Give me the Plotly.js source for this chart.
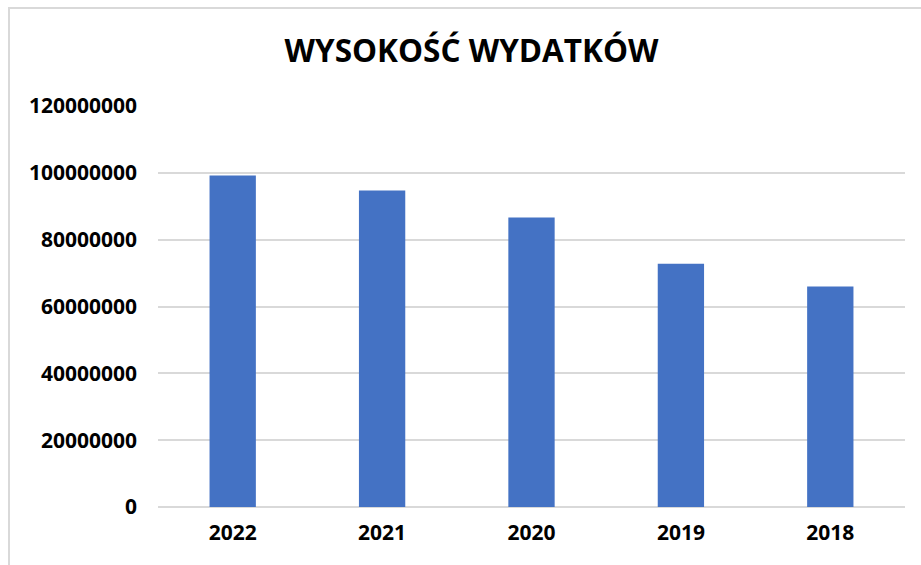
<!DOCTYPE html>
<html>
<head>
<meta charset="utf-8">
<script src="https://cdn.plot.ly/plotly-3.0.1.min.js"></script>
<style>
  html, body { margin: 0; padding: 0; background: #fff; overflow: hidden; }
  #frame { position: absolute; left: 8px; top: 7px; width: 1000px; height: 1000px; border: 2px solid #d9d9d9; box-sizing: border-box; }
  #chart { position: absolute; left: 0; top: 0; width: 921px; height: 565px; }
</style>
</head>
<body>
<div id="frame"></div>
<div id="chart"></div>
<script>
const categories = ["2022", "2021", "2020", "2019", "2018"];
const values = [99200000, 94700000, 86600000, 72800000, 66000000];
const tickValues = [0, 20000000, 40000000, 60000000, 80000000, 100000000, 120000000];
const tickLabels = ["0", "20000000", "40000000", "60000000", "80000000", "100000000", "120000000"];
const chartTitle = "WYSOKOŚĆ WYDATKÓW";

const trace = {
  type: "bar",
  x: categories,
  y: values,
  marker: { color: "#4472C4" },
  hoverinfo: "x+y"
};

const layout = {
  width: 921,
  height: 565,
  paper_bgcolor: "rgba(0,0,0,0)",
  plot_bgcolor: "rgba(0,0,0,0)",
  margin: { l: 158, r: 16, t: 106, b: 58 },
  bargap: 0.69,
  showlegend: false,
  title: {
    text: chartTitle,
    font: { family: "Open Sans", size: 31.5, color: "#000", weight: "bold" },
    x: 0.512, xref: "container", xanchor: "center",
    y: 1 - 51 / 565, yref: "container", yanchor: "middle"
  },
  xaxis: {
    type: "category",
    showgrid: false,
    showline: false,
    zeroline: false,
    ticks: "",
    ticklabelstandoff: 11,
    tickfont: { family: "Open Sans", size: 21, color: "#000", weight: "bold" }
  },
  yaxis: {
    range: [0, 120000000],
    tickmode: "array",
    tickvals: tickValues,
    ticktext: tickLabels,
    showgrid: true,
    gridcolor: "#d9d9d9",
    gridwidth: 2,
    zeroline: true,
    zerolinecolor: "#d9d9d9",
    zerolinewidth: 2,
    showline: false,
    ticks: "",
    ticklabelstandoff: 20,
    tickfont: { family: "Open Sans", size: 21, color: "#000", weight: "bold" }
  }
};

Plotly.newPlot("chart", [trace], layout, { displayModeBar: false, staticPlot: true });
</script>
</body>
</html>
